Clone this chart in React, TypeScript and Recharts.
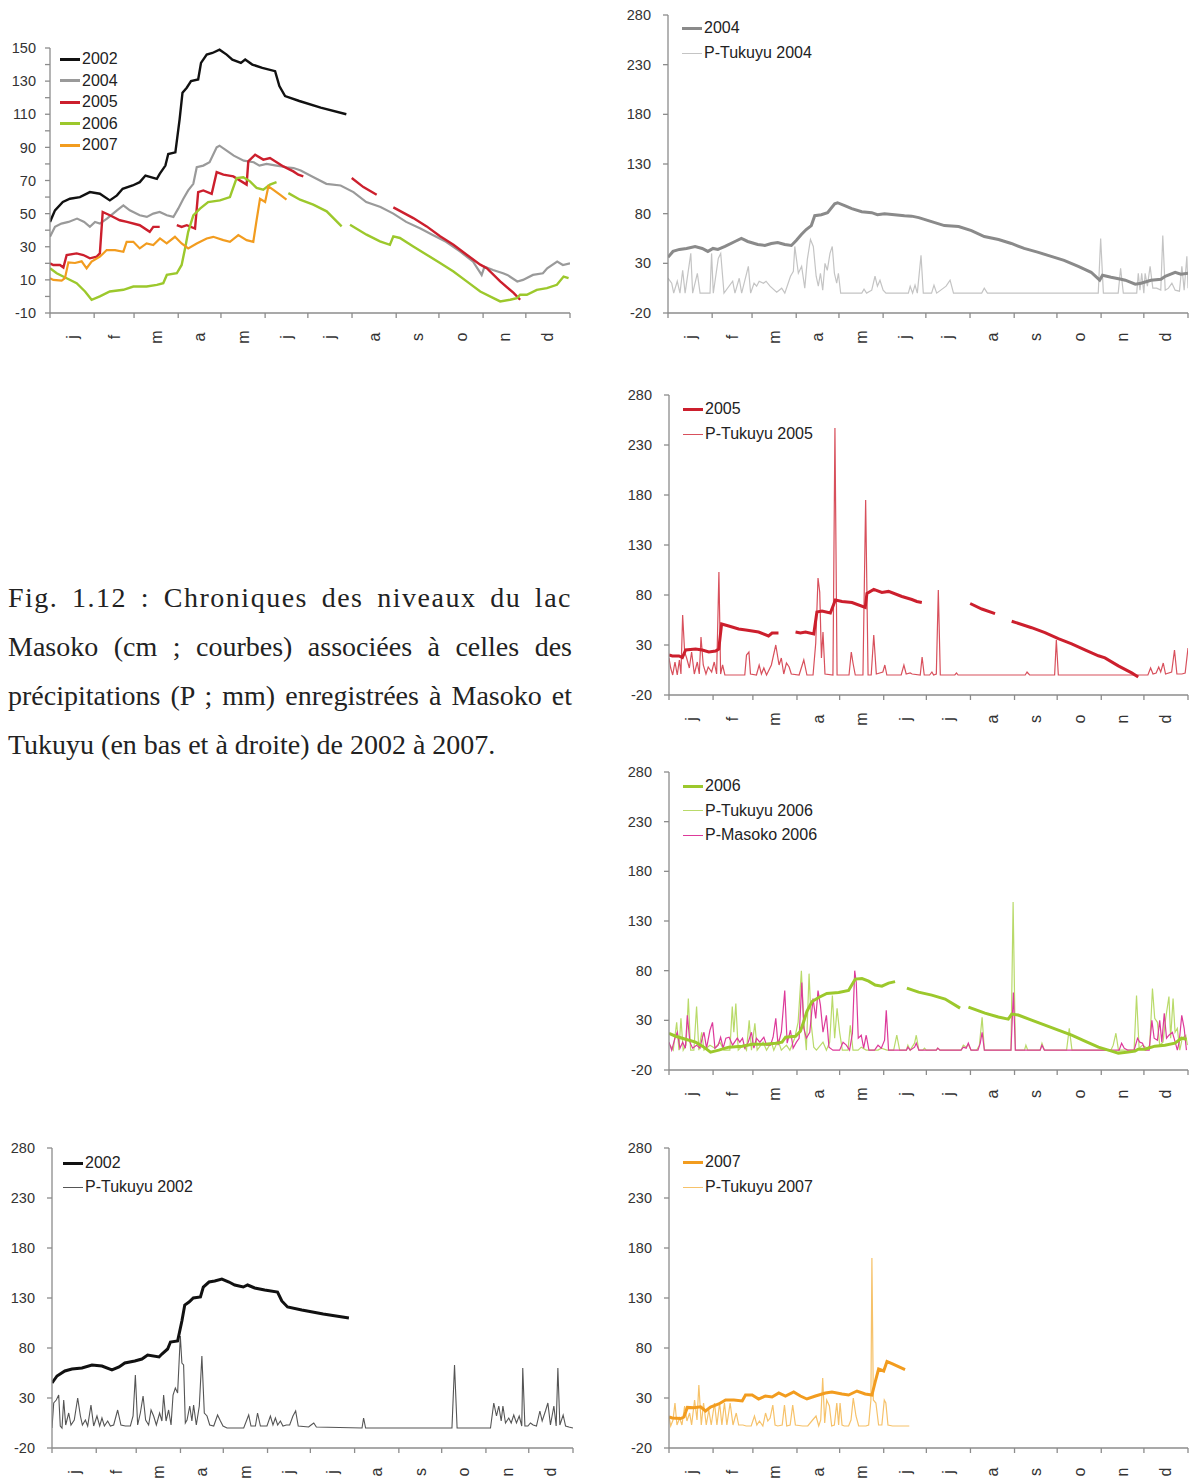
import React from "react";
import { LineChart, Line, XAxis, YAxis, Legend } from "recharts";

// day of year -> value ; null = gap in the record
type Pt = [number, number | null];

const monthStarts = [0, 31, 59, 90, 120, 151, 181, 212, 243, 273, 304, 334, 365];
const monthLabels = ["j", "f", "m", "a", "m", "j", "j", "a", "s", "o", "n", "d"];

const yTicksLevels = [-10, 0, 10, 20, 30, 40, 50, 60, 70, 80, 90, 100, 110, 120, 130, 140, 150];
const yTicksRain = [-20, 30, 80, 130, 180, 230, 280];

// lake levels (cm)
const level2002: Pt[] = [
  [0, 45], [3.5, 52], [9, 57], [14, 59], [21, 60], [28, 63], [35, 62], [42, 58], [47, 61], [51, 65],
  [58, 67], [63, 69], [67, 73], [75, 71], [77, 74], [81, 79], [83, 86], [88, 87], [91, 107], [93, 123],
  [96, 126], [99, 130], [104, 131], [106, 141], [110, 146], [114, 147], [119, 149], [124, 146], [128, 143],
  [134, 141], [137, 143], [142, 140], [149, 138], [158, 136], [161, 127], [165, 121], [175, 118],
  [190, 114], [208, 110],
];

const level2004: Pt[] = [
  [0, 36], [3.5, 42], [8, 44], [13, 45], [19, 47], [24, 45], [28, 42], [31.6, 45], [35, 44], [40, 47],
  [47, 52], [51.5, 55], [56, 52], [63, 49], [68, 48], [72.5, 50], [77, 51], [82, 49], [86.6, 48], [90, 53],
  [93.6, 59], [97, 64], [100.6, 68], [103, 78], [107.6, 79], [112, 81], [117, 90], [119, 91], [124, 88],
  [129, 85], [136, 82], [143, 81], [147, 79], [152, 80], [159, 79], [166, 78], [171, 77.5], [176, 76],
  [185, 72], [194, 68], [204, 67], [213, 63], [222, 57], [232, 54], [241, 50], [250, 45], [260, 41],
  [269, 37], [278, 33], [288, 27], [297, 21], [303, 13], [305, 18], [311, 16], [318, 14], [321, 13],
  [328, 9], [332, 10], [339, 13], [346, 14], [349, 17], [356, 21], [360, 19], [365, 20],
];

const level2005: Pt[] = [
  [0, 20], [2.3, 19], [7, 19], [9.4, 17.5], [11.7, 25], [18.7, 26], [23.4, 25], [28, 23], [32.8, 24],
  [35, 26], [37, 51], [42, 49], [49, 46], [54, 45], [63, 43], [70, 39], [72.5, 42], [77, 42], [80, null],
  [89, 43], [92.4, 42], [96, 43], [101.8, 41], [104, 63], [107.6, 64], [113.5, 62], [117, 75],
  [121.7, 73.5], [128.7, 72.5], [138, 67.5], [139.2, 81.6], [144, 85.6], [149.7, 82.6], [154.4, 83.6],
  [163.8, 78.5], [170.8, 75.5], [174.3, 73.5], [177.8, 72.5], [195, null], [211.8, 71.5], [220, 66],
  [229.3, 61.4], [235, null], [241, 53.8], [255, 47.3], [264.4, 42.3], [273.8, 36.3], [283.2, 31.2],
  [292.5, 25.2], [302, 19.2], [306.6, 17.1], [316, 9.1], [325.4, 2.1], [330, -2],
];

const level2006: Pt[] = [
  [0, 17], [4.7, 14], [11.7, 11], [18.7, 8], [24.6, 3], [29.2, -2], [35, 0], [42, 3], [51.5, 4],
  [58.5, 6], [67.8, 6], [75, 7], [79.5, 8], [82, 13], [89, 14], [92.4, 19], [94.8, 29], [97, 39],
  [100.6, 49], [105.3, 53], [111, 57], [119.3, 58], [126.3, 60], [127.5, 63], [131, 71.5], [135.7, 72],
  [140.4, 69.5], [145, 65.5], [149.7, 64.4], [154.4, 67.5], [159, 69], [163, null], [167.3, 62.4],
  [175.5, 58.4], [184.8, 55.4], [194.2, 51.4], [204.7, 42.3], [207, null], [210.6, 43.3], [222.2, 37.3],
  [231.6, 33.3], [238.6, 31.2], [241, 36.3], [245.6, 35.3], [255, 30.2], [264.4, 25.2], [273.8, 20.2],
  [283.2, 15.1], [292.5, 9.1], [302, 3], [311.3, -1], [316, -3], [323, -2], [327.7, -1], [330, 1],
  [334.7, 1], [341.7, 4], [348.8, 5], [355.8, 7], [360.5, 12], [364, 11],
];

const level2007: Pt[] = [
  [0, 11], [2.3, 10], [8.2, 9.5], [10.5, 11], [12.9, 20.6], [17.5, 20.2], [22.2, 21.2], [25.7, 17],
  [29.2, 21], [35, 24], [39.8, 28], [45.6, 28], [51.5, 27], [53.8, 33], [58.5, 33], [63, 29], [67.8, 32],
  [72.5, 31], [77.2, 35], [81.9, 32], [87.7, 36], [92.4, 32], [97, 29], [103, 32], [110, 35],
  [114.6, 36], [121.7, 34], [126.3, 33], [132.2, 37], [138, 34], [142.7, 33], [145, 46], [147.4, 59],
  [151, 57], [153.3, 66.5], [156.8, 64.4], [161.4, 61.4], [166, 58.4],
];

// daily rainfall (mm)
const rainTukuyu2002: Pt[] = [
  [0, 0], [1.2, 25], [3, 28], [4.7, 33], [5.8, 2], [7, 0], [8.2, 28], [9.6, 3], [11.7, 15], [13.3, 3],
  [15.6, 8], [18, 30], [19.9, 12], [21.3, 3], [23.4, 8], [25, 2], [27.3, 23], [29.2, 2], [31.5, 12],
  [33.4, 2], [35, 10], [36.7, 2], [39, 7], [40.9, 2], [43.2, 3], [46, 18], [48.3, 3], [51.4, 2],
  [54.9, 2], [56.8, 12], [58.4, 53], [60, 3], [61.9, 15], [63.8, 32], [65.6, 8], [67.7, 3], [69.4, 18],
  [71.2, 12], [73.1, 3], [75.4, 15], [77, 7], [78.2, 33], [79.9, 7], [81.7, 18], [83.4, 3], [84.8, 33],
  [86.4, 40], [88, 35], [89.9, 92], [91, 65], [92.2, 63], [93.4, 5], [94.6, 8], [96.5, 22], [98, 7],
  [99.2, 23], [101.1, 3], [103.2, 22], [105, 72], [106.7, 15], [108.6, 12], [110.5, 3], [113.3, 2],
  [116, 13], [118, 7], [119.8, 2], [122.6, 0], [134.3, 0], [137.8, 13], [139.4, 2], [142.5, 2],
  [144, 15], [146, 2], [150.6, 2], [153, 12], [154.8, 3], [156.5, 10], [158.1, 3], [160, 7], [161.8, 2],
  [164.2, 3], [166.5, 3], [168.8, 12], [170.7, 17], [172.5, 2], [179.8, 1], [181.5, 3], [183.4, 5],
  [185.2, 1], [217.2, 0], [218.3, 10], [219.7, 0], [280.2, 0], [282, 63], [283.8, 0], [307.2, 0],
  [309.5, 25], [311.4, 12], [313, 22], [314.7, 7], [315.9, 22], [317.7, 5], [320, 10], [321.7, 5],
  [323.5, 13], [325.4, 5], [327.3, 12], [329.1, 2], [329.8, 60], [331.3, 2], [333.4, 2], [335.2, 5],
  [337.1, 3], [339.4, 2], [341.8, 17], [343.4, 7], [345.7, 17], [347.4, 25], [349.2, 3], [351.6, 22],
  [353.2, 2], [354.4, 60], [355.8, 3], [358.1, 13], [359.8, 2], [362.1, 1], [365, 0],
];

const rainTukuyu2004: Pt[] = [
  [0, 15], [2.6, 10], [4, 0], [6.5, 12], [8.4, 0], [10.3, 23], [12, 0], [16, 40], [17.3, 0], [20.6, 20],
  [22.5, 0], [29.5, 0], [30.6, 40], [31.8, 0], [35.3, 35], [37, 40], [39.3, 0], [45.4, 12], [47, 0],
  [50, 15], [51.7, 0], [56.4, 27], [58, 0], [60.4, 10], [62.2, 7], [64, 12], [67, 10], [68.8, 12],
  [71.6, 7], [76.3, 1], [79.8, 5], [82, 0], [86, 17], [88, 22], [89, 47], [91.5, 20], [93.8, 27],
  [96, 5], [97.8, 34], [100, 54], [102, 47], [104, 17], [105.5, 7], [107, 20], [108.6, 3], [110.2, 30],
  [111.8, 23], [113.7, 40], [115.3, 47], [116.8, 20], [118.4, 10], [119.6, 20], [121.2, 0], [136, 0],
  [137.6, 4], [139.4, 0], [143, 3], [145.3, 17], [147, 7], [148.8, 13], [151, 3], [153, 0], [168.7, 0],
  [170, 7], [171.7, 0], [173.4, 8], [175, 0], [177.6, 38], [179.2, 0], [185, 0], [186.7, 8], [188.6, 0],
  [195.2, 7], [198, 13], [200.4, 0], [220.2, 0], [222, 5], [224.2, 0], [302, 0], [303.7, 55], [305.6, 0],
  [316, 0], [317.7, 25], [319.6, 0], [329, 0], [330.1, 20], [331.3, 3], [332.5, 20], [334, 0],
  [334.9, 20], [336.5, 7], [338.4, 27], [340.3, 5], [343, 5], [345.9, 3], [347.3, 58], [349, 3],
  [351.3, 5], [353.7, 10], [356, 3], [359, 2], [360.7, 27], [362.3, 3], [364.2, 37], [365, 5],
];

const rainTukuyu2005: Pt[] = [
  [0, 17], [1.2, 7], [2.6, 0], [4.2, 13], [5.8, 0], [7.3, 15], [8.4, 1], [9.6, 60], [11, 23], [12.4, 17],
  [14.3, 7], [15.9, 23], [17.8, 1], [19.9, 13], [21.3, 1], [22.5, 38], [24.1, 10], [26, 1], [27.6, 8],
  [30, 3], [31.8, 13], [33.5, 1], [35.1, 103], [36.3, 1], [37.7, 10], [39.3, 0], [53.3, 0], [54.5, 20],
  [56.2, 23], [57.3, 1], [61.5, 0], [63.4, 10], [65, 1], [66.7, 7], [68.6, 0], [72, 10], [75.1, 30],
  [77.4, 10], [79, 17], [80.7, 1], [82.6, 12], [84.5, 8], [86, 1], [91.5, 0], [94.8, 15], [97, 0],
  [101.3, 0], [103.2, 32], [104.8, 97], [106, 83], [107.2, 17], [108.3, 43], [109.7, 1], [115.3, 0],
  [116.7, 247], [118.2, 0], [126.6, 0], [128.2, 23], [129.4, 12], [131, 0], [136.4, 0], [138.3, 175],
  [140, 0], [142.2, 0], [144, 40], [145.8, 1], [150.4, 3], [151.8, 10], [153.2, 0], [163.3, 0],
  [165.2, 10], [166.8, 1], [169.6, 2], [171, 1], [176.7, 0], [178, 18], [179.5, 0], [183.3, 0],
  [184.9, 3], [186.1, 0], [188, 1], [189.4, 85], [190.8, 0], [201, 0], [202.2, 2], [203.3, 0],
  [250.5, 0], [251.8, 3], [253.6, 0], [271.2, 0], [272.4, 35], [273.8, 0], [336.8, 0], [338.7, 7],
  [340.4, 1], [342.6, 2], [344.4, 8], [345.8, 3], [347.6, 12], [349.2, 1], [353.5, 3], [355.5, 25],
  [357.2, 1], [360.7, 1], [363, 2], [365, 27],
];

const rainTukuyu2006: Pt[] = [
  [0.7, 5], [3, 0], [5.4, 28], [7, 0], [8.4, 32], [10, 0], [12, 5], [13.6, 52], [15.2, 0], [17.5, 0],
  [19.4, 44], [21, 0], [23, 18], [24.6, 0], [28.8, 5], [32.3, 2], [35.8, 8], [38.6, 0], [42.8, 0],
  [44.5, 44], [45.6, 18], [47, 47], [48.7, 0], [52.2, 5], [54.5, 0], [56.4, 30], [58, 0], [60.4, 27],
  [62, 0], [66.2, 8], [68.6, 0], [72, 8], [73.7, 0], [76.7, 10], [79, 0], [82.6, 5], [85, 0], [88.4, 12],
  [90.8, 28], [93.1, 80], [94.8, 28], [96.6, 0], [98.5, 77], [100.1, 25], [101.8, 3], [103.7, 0],
  [108.3, 8], [110.7, 0], [113, 8], [114.9, 55], [116.5, 12], [118.2, 42], [120, 18], [121.9, 0],
  [125.9, 0], [127.5, 25], [129.4, 0], [133, 0], [135.2, 3], [138.7, 0], [147, 0], [149.3, 2],
  [153.3, 0], [158, 0], [160.2, 15], [162.2, 0], [167, 0], [168, 5], [169.6, 0], [172.7, 7], [173.9, 15],
  [175.7, 0], [178.5, 0], [179.7, 2], [180.9, 0], [188, 0], [189, 2], [190.7, 0], [205.4, 0], [207, 5],
  [209, 3], [210.5, 6], [212.4, 0], [216.4, 0], [218.3, 5], [220.2, 33], [221.8, 0], [240.5, 0],
  [242, 149], [243.6, 0], [250, 0], [251, 5], [252.3, 0], [261, 0], [262.3, 7], [264, 0], [279.6, 0],
  [281.5, 22], [283.4, 0], [310.8, 0], [312.4, 5], [314.3, 17], [316.1, 0], [327.1, 0], [328.8, 55],
  [330.6, 2], [333, 5], [336.5, 2], [338.1, 5], [340, 62], [341.6, 32], [343.5, 28], [345.1, 5],
  [347.4, 8], [349.3, 32], [351.6, 54], [352.8, 12], [354.5, 52], [355.9, 18], [357.5, 22], [359.2, 0],
  [361, 12], [363.4, 15], [364.6, 5],
];

const rainMasoko2006: Pt[] = [
  [0, 8], [1.9, 0], [4.2, 12], [5.8, 18], [7.7, 2], [9.6, 8], [11.5, 2], [12.9, 35], [14.7, 8],
  [16.6, 2], [19.4, 5], [21.8, 2], [23, 10], [24.6, 18], [26.4, 2], [28.8, 20], [30.6, 28], [32.3, 2],
  [34.6, 5], [36.3, 13], [38.1, 2], [40, 12], [42.3, 13], [44.7, 5], [48, 12], [49.8, 8], [51.7, 12],
  [53.3, 2], [55.7, 8], [58, 18], [59.7, 2], [61.5, 12], [63.9, 8], [66.7, 13], [68.6, 5], [71.4, 5],
  [73.2, 13], [75.1, 32], [76.7, 5], [79, 18], [81.4, 60], [83.1, 7], [85.4, 20], [87.3, 2], [89.6, 8],
  [91.5, 12], [93.4, 68], [94.8, 22], [96.6, 12], [99, 18], [101.3, 52], [103.2, 32], [104.8, 60],
  [106.5, 45], [108.3, 18], [110.7, 35], [112.5, 3], [115.3, 0], [120, 0], [122.4, 8], [124.7, 5],
  [127, 0], [129, 17], [130.6, 80], [131.7, 68], [133.1, 12], [135.2, 15], [136.9, 2], [138.7, 15],
  [140.6, 0], [144.6, 0], [147, 5], [149.3, 2], [151.6, 10], [152.8, 40], [154.4, 0], [167, 0],
  [168, 3], [169.6, 0], [172.7, 3], [173.9, 7], [175.7, 0], [188, 0], [189, 2], [190.5, 0], [205.4, 0],
  [207, 3], [209, 2], [210.5, 7], [212.4, 0], [217.3, 0], [218.9, 7], [220.2, 18], [221.8, 0],
  [240.5, 0], [242.2, 58], [243.6, 0], [261, 0], [262.3, 5], [264, 0], [316.6, 0], [318.3, 7],
  [320.1, 2], [322.5, 0], [327.1, 0], [329.5, 12], [331.1, 8], [333, 7], [334.9, 0], [337.7, 0],
  [339.6, 30], [341.2, 12], [343.5, 10], [345.1, 30], [346.6, 8], [348.3, 37], [349.9, 12], [351.6, 15],
  [354, 18], [356, 8], [357.5, 0], [358.8, 8], [360.6, 35], [362.3, 22], [363.9, 0],
];

const rainTukuyu2007: Pt[] = [
  [0, 12], [1.2, 2], [2.8, 8], [4.2, 25], [5.6, 3], [7.5, 10], [9.1, 3], [11, 22], [12.6, 7], [14.5, 15],
  [15.9, 3], [18, 28], [19.7, 8], [21, 43], [22.7, 3], [24.3, 25], [26.2, 3], [28, 18], [29.7, 3],
  [32, 25], [33.7, 3], [35.6, 25], [37.2, 3], [39, 25], [40.7, 3], [43, 25], [45, 3], [47.3, 15],
  [49, 3], [52, 3], [54.3, 2], [57.8, 2], [60.1, 12], [61.8, 3], [63.6, 7], [66, 2], [67.9, 15],
  [69.5, 7], [71.1, 10], [73, 23], [74.6, 3], [76.5, 2], [79.6, 3], [81.2, 23], [82.8, 2], [85.2, 3],
  [87, 23], [88.9, 3], [94, 2], [97.6, 2], [101, 8], [103.4, 12], [105.3, 2], [106.7, 8], [108.1, 50],
  [109.5, 5], [110.9, 28], [112.8, 22], [114.4, 2], [116.3, 3], [118, 25], [119.3, 3], [120.3, 25],
  [121.7, 3], [123.3, 2], [126.3, 2], [128, 8], [129.6, 30], [131.5, 12], [133.4, 2], [138.5, 2],
  [140.4, 3], [142, 28], [142.7, 170], [143.7, 28], [145.5, 25], [147.4, 3], [149.7, 3], [151.4, 28],
  [152.5, 25], [154, 3], [157.2, 2], [169, 2],
];

const font = '"Liberation Sans", Arial, sans-serif';
const axisColor = "#8c8c8c";

const xTicks: number[] = [];
monthStarts.forEach((s, i) => {
  xTicks.push(s);
  if (i < 12) xTicks.push((s + monthStarts[i + 1]) / 2);
});

const toRows = (pts: Pt[]) => pts.map(([d, v]) => ({ d, v }));

type Serie = { key: string; name: string; pts: Pt[]; color: string; width: number };

const MonthTick = (props: any) => {
  const { x, y, payload } = props;
  const v = payload.value;
  if (monthStarts.includes(v)) {
    return <line x1={x} y1={y} x2={x} y2={y + 5} stroke={axisColor} strokeWidth={1.3} />;
  }
  const i = monthStarts.findIndex((s, k) => k < 12 && (s + monthStarts[k + 1]) / 2 === v);
  const ty = y + 24;
  return (
    <text x={x} y={ty} transform={`rotate(-90 ${x} ${ty})`} textAnchor="middle" dominantBaseline="central"
      fontSize={16} fill="#333" fontFamily={font}>
      {monthLabels[i]}
    </text>
  );
};

type PanelProps = {
  x: number; y: number; w: number; h: number;
  domain: [number, number]; yTicks: number[]; fmt?: (v: number) => string; labelGap: number;
  series: Serie[]; legend: Serie[]; legendX: number; legendY: number; legendGap: number;
};

function Panel(p: PanelProps) {
  const left = p.x - 50;
  const top = p.y - 10;
  const legendBox = () => (
    <div style={{ fontFamily: font, fontSize: 16, color: "#222" }}>
      {p.legend.map((s) => (
        <div key={s.key} style={{ display: "flex", alignItems: "center", height: p.legendGap, whiteSpace: "nowrap" }}>
          <span style={{ display: "inline-block", width: 20, height: s.width > 1.5 ? 3 : 1, background: s.color, marginRight: 2 }} />
          <span>{s.name}</span>
        </div>
      ))}
    </div>
  );
  return (
    <div style={{ position: "absolute", left, top }}>
      <LineChart width={p.w + 60} height={p.h + 55} margin={{ top: 10, right: 10, bottom: 0, left: 0 }}>
        <XAxis dataKey="d" type="number" domain={[0, 365]} ticks={xTicks} interval={0} allowDataOverflow
          tick={<MonthTick />} tickLine={false} tickSize={0} tickMargin={0} height={45}
          stroke={axisColor} strokeWidth={1.3} />
        <YAxis type="number" domain={p.domain} ticks={p.yTicks} interval={0} allowDataOverflow width={50}
          tickSize={5} tickMargin={p.labelGap} stroke={axisColor} strokeWidth={1.3}
          tick={{ fontSize: 14.5, fill: "#333", fontFamily: font }} tickFormatter={p.fmt} />
        {p.series.map((s) => (
          <Line key={s.key} data={toRows(s.pts)} dataKey="v" name={s.name} type="linear" stroke={s.color}
            strokeWidth={s.width} dot={false} activeDot={false} isAnimationActive={false} />
        ))}
        <Legend layout="vertical" align="center" verticalAlign="middle"
          wrapperStyle={{ left: p.legendX - left, top: p.legendY - p.legendGap / 2 - top, width: "auto", height: "auto" }}
          content={legendBox} />
      </LineChart>
    </div>
  );
}

const c2002 = "#111111";
const c2004 = "#9a9a9a";
const c2005 = "#cc1f2d";
const c2006 = "#9cc82c";
const c2007 = "#f29c1f";

const s = (key: string, name: string, pts: Pt[], color: string, width: number): Serie => ({ key, name, pts, color, width });

const overview = [
  s("l02", "2002", level2002, c2002, 2.4),
  s("l04", "2004", level2004, c2004, 2.2),
  s("l05", "2005", level2005, c2005, 2.4),
  s("l06", "2006", level2006, c2006, 2.4),
  s("l07", "2007", level2007, c2007, 2.2),
];

const lv04 = s("l04", "2004", level2004, "#8a8a8a", 3);
const pt04 = s("p04", "P-Tukuyu 2004", rainTukuyu2004, "#c4c4c4", 1.2);
const lv05 = s("l05", "2005", level2005, c2005, 3);
const pt05 = s("p05", "P-Tukuyu 2005", rainTukuyu2005, "#d8505c", 1.2);
const lv06 = s("l06", "2006", level2006, c2006, 3);
const pt06 = s("p06", "P-Tukuyu 2006", rainTukuyu2006, "#b9da6a", 1.2);
const pm06 = s("m06", "P-Masoko 2006", rainMasoko2006, "#dd3a9a", 1.2);
const lv02 = s("l02", "2002", level2002, c2002, 3);
const pt02 = s("p02", "P-Tukuyu 2002", rainTukuyu2002, "#555555", 1.1);
const lv07 = s("l07", "2007", level2007, c2007, 3);
const pt07 = s("p07", "P-Tukuyu 2007", rainTukuyu2007, "#f6c26a", 1.2);

const captionLines = [
  "Fig. 1.12 : Chroniques des niveaux du lac",
  "Masoko (cm ; courbes) associées à celles des",
  "précipitations (P ; mm) enregistrées à Masoko et",
  "Tukuyu (en bas et à droite) de 2002 à 2007.",
];

export default function App() {
  const rain = { domain: [-20, 280] as [number, number], yTicks: yTicksRain, labelGap: 12 };
  return (
    <div style={{ position: "absolute", left: 0, top: 0, width: 1197, height: 1481, overflow: "hidden", background: "#fff" }}>
      <Panel x={50} y={48} w={520} h={265} domain={[-10, 150]} yTicks={yTicksLevels} labelGap={9}
        fmt={(v) => ((v + 10) % 20 === 0 ? String(v) : "")}
        series={overview} legend={overview} legendX={60} legendY={59} legendGap={21.5} />
      <Panel x={668} y={15} w={520} h={298} {...rain} series={[pt04, lv04]} legend={[lv04, pt04]}
        legendX={682} legendY={28} legendGap={25} />
      <Panel x={669} y={395} w={519} h={300} {...rain} series={[pt05, lv05]} legend={[lv05, pt05]}
        legendX={683} legendY={409} legendGap={25} />
      <Panel x={669} y={772} w={519} h={298} {...rain} series={[pt06, pm06, lv06]} legend={[lv06, pt06, pm06]}
        legendX={683} legendY={786} legendGap={24.5} />
      <Panel x={52} y={1148} w={521} h={300} {...rain} series={[pt02, lv02]} legend={[lv02, pt02]}
        legendX={63} legendY={1163} legendGap={24} />
      <Panel x={669} y={1148} w={519} h={300} {...rain} series={[pt07, lv07]} legend={[lv07, pt07]}
        legendX={683} legendY={1162} legendGap={25} />
      <div style={{ position: "absolute", left: 8, top: 573, width: 564, fontFamily: '"Liberation Serif", "Times New Roman", serif', fontSize: 28, lineHeight: "49px", color: "#222" }}>
        {captionLines.map((t, i) => (
          <div key={i} style={{ textAlign: i < 3 ? "justify" : "left", textAlignLast: i < 3 ? "justify" : "left", whiteSpace: "nowrap", letterSpacing: i === 0 ? 1.5 : 0 }}>
            {t}
          </div>
        ))}
      </div>
    </div>
  );
}
